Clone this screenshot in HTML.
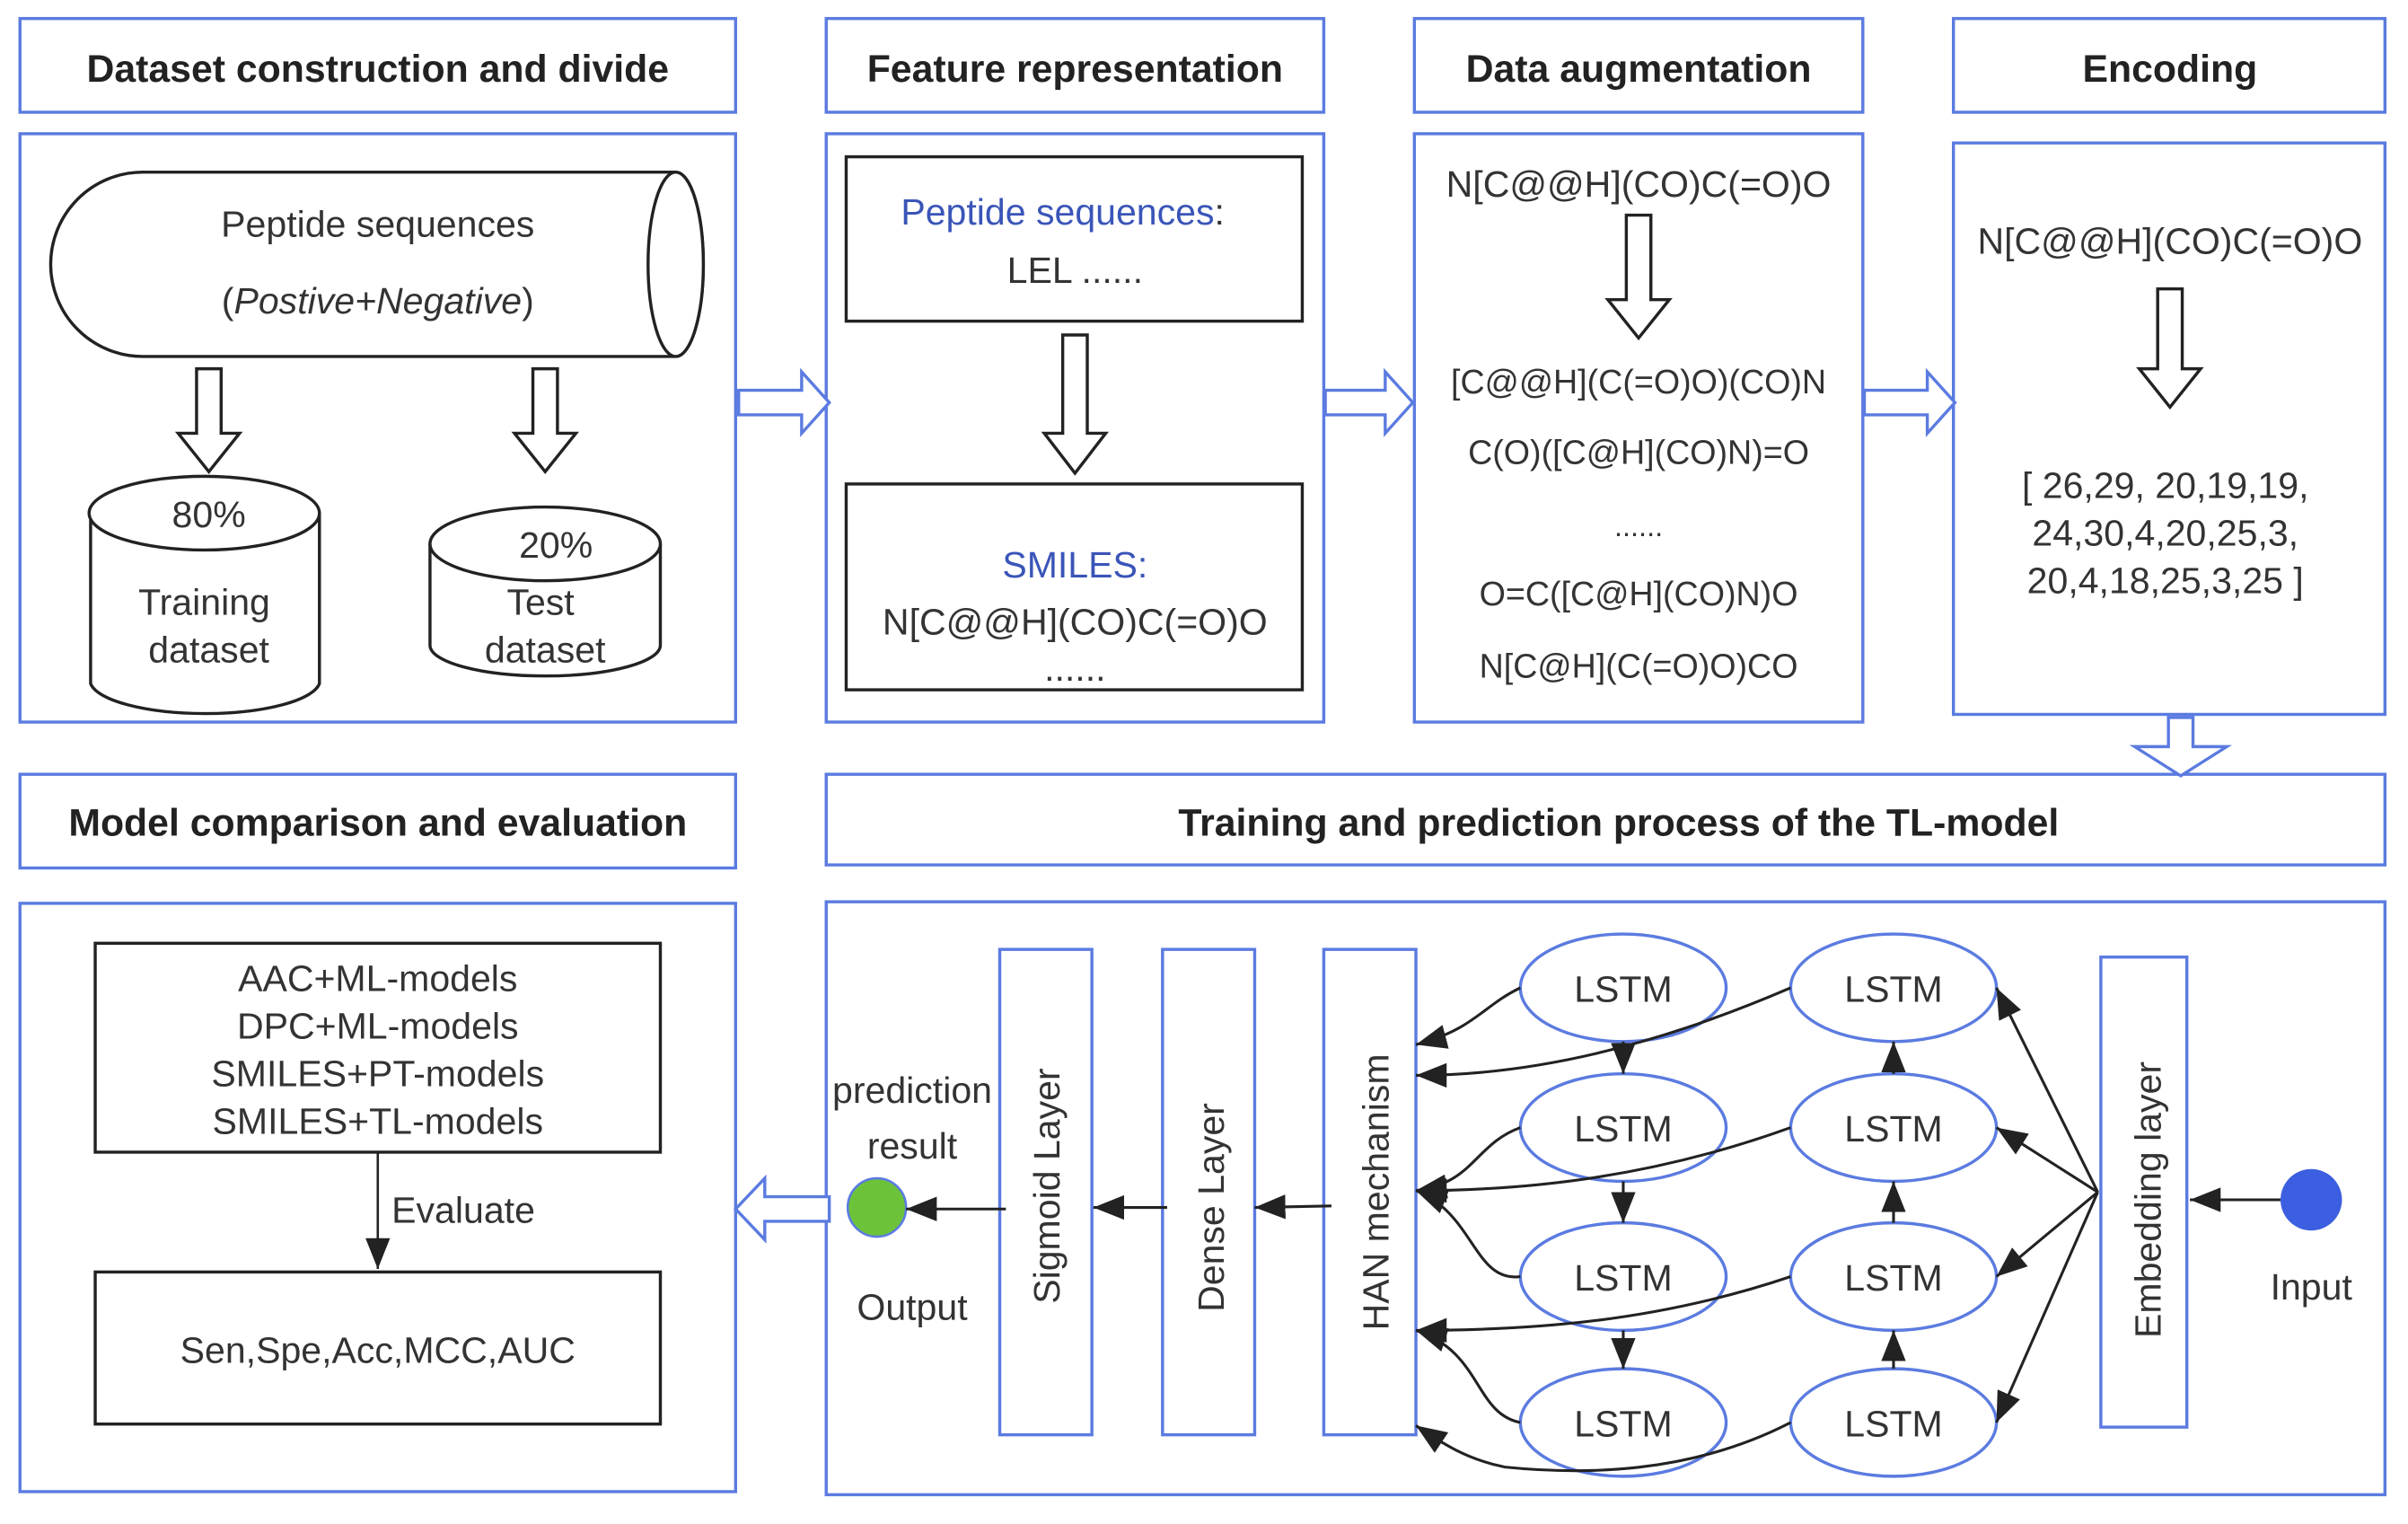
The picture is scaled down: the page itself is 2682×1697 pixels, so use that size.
<!DOCTYPE html>
<html><head><meta charset="utf-8"><style>
html,body{margin:0;padding:0;background:#fff;}
svg{display:block;}
text{font-family:"Liberation Sans",sans-serif;fill:#333;}
.h{font-weight:bold;font-size:25px;fill:#222;}
.t{font-size:24px;}
</style></head><body>
<svg width="2682" height="1697" viewBox="0 0 1568 992" xmlns="http://www.w3.org/2000/svg">
<defs>
<marker id="b" markerWidth="20" markerHeight="16" refX="20" refY="8" orient="auto" markerUnits="userSpaceOnUse"><path d="M0,0 L20,8 L0,16 z" fill="#222"/></marker>
</defs>
<g fill="none" stroke="#5b7be0" stroke-width="2">
<rect x="13" y="12" width="466" height="61"/>
<rect x="538" y="12" width="324" height="61"/>
<rect x="921" y="12" width="292" height="61"/>
<rect x="1272" y="12" width="281" height="61"/>
<rect x="13" y="87" width="466" height="383"/>
<rect x="538" y="87" width="324" height="383"/>
<rect x="921" y="87" width="292" height="383"/>
<rect x="1272" y="93" width="281" height="372"/>
<rect x="13" y="504" width="466" height="61"/>
<rect x="538" y="504" width="1015" height="59"/>
<rect x="13" y="588" width="466" height="383"/>
<rect x="538" y="587" width="1015" height="386"/>
<rect x="651" y="618" width="60" height="316"/>
<rect x="757" y="618" width="60" height="316"/>
<rect x="862" y="618" width="60" height="316"/>
<rect x="1368" y="623" width="56" height="306"/>
<path d="M481,254 H522 V242 L540,262 L522,282 V270 H481 Z" fill="#fff"/>
<path d="M863,254 H902 V242 L920,262 L902,282 V270 H863 Z" fill="#fff"/>
<path d="M1214,254 H1255 V242 L1273,262 L1255,282 V270 H1214 Z" fill="#fff"/>
<path d="M1412,467 H1428 V486 H1450 L1420,505 L1390,486 H1412 Z" fill="#fff"/>
<path d="M540,779 H498 V767 L479,787 L498,807 V795 H540 Z" fill="#fff"/>
<ellipse cx="1057" cy="643" rx="67" ry="35"/><ellipse cx="1233" cy="643" rx="67" ry="35"/>
<ellipse cx="1057" cy="734" rx="67" ry="35"/><ellipse cx="1233" cy="734" rx="67" ry="35"/>
<ellipse cx="1057" cy="831" rx="67" ry="35"/><ellipse cx="1233" cy="831" rx="67" ry="35"/>
<ellipse cx="1057" cy="926" rx="67" ry="35"/><ellipse cx="1233" cy="926" rx="67" ry="35"/>
</g>
<g fill="#fff" stroke="#222" stroke-width="2">
<path d="M93,112 H440 A18,60 0 0 1 440,232 H93 A60,60 0 0 1 93,112 Z"/>
<ellipse cx="440" cy="172" rx="18" ry="60"/>
<path d="M128,240 H144 V282 H156 L136,307 L116,282 H128 Z"/>
<path d="M347,240 H363 V282 H375 L355,307 L335,282 H347 Z"/>
<path d="M692,218 H708 V282 H720 L700,308 L680,282 H692 Z"/>
<path d="M1059,140 H1075 V195 H1087 L1067,220 L1047,195 H1059 Z"/>
<path d="M1405,188 H1421 V240 H1433 L1413,265 L1393,240 H1405 Z"/>
<path d="M59,334 V445 A75,22 0 0 0 208,445 V334"/>
<ellipse cx="133" cy="334" rx="75" ry="24"/>
<path d="M280,354 V420 A75,20 0 0 0 430,420 V354"/>
<ellipse cx="355" cy="354" rx="75" ry="24"/>
<rect x="551" y="102" width="297" height="107"/>
<rect x="551" y="315" width="297" height="134"/>
<rect x="62" y="614" width="368" height="136"/>
<rect x="62" y="828" width="368" height="99"/>
</g>
<text class="h" x="246" y="53" text-anchor="middle">Dataset construction and divide</text>
<text class="h" x="700" y="53" text-anchor="middle">Feature representation</text>
<text class="h" x="1067" y="53" text-anchor="middle">Data augmentation</text>
<text class="h" x="1413" y="53" text-anchor="middle">Encoding</text>
<text class="h" x="246" y="544" text-anchor="middle">Model comparison and evaluation</text>
<text class="h" x="1054" y="544" text-anchor="middle">Training and prediction process of the TL-model</text>
<text class="t" x="246" y="154" text-anchor="middle">Peptide sequences</text>
<text class="t" x="246" y="204" text-anchor="middle">(<tspan font-style="italic">Postive+Negative</tspan>)</text>
<text class="t" x="136" y="343" text-anchor="middle">80%</text>
<text class="t" x="133" y="400" text-anchor="middle">Training</text>
<text class="t" x="136" y="431" text-anchor="middle">dataset</text>
<text class="t" x="362" y="363" text-anchor="middle">20%</text>
<text class="t" x="352" y="400" text-anchor="middle">Test</text>
<text class="t" x="355" y="431" text-anchor="middle">dataset</text>
<text class="t" x="692" y="146" text-anchor="middle"><tspan style="fill:#3a55b8">Peptide sequences</tspan>:</text>
<text class="t" x="700" y="184" text-anchor="middle">LEL ......</text>
<text class="t" x="700" y="376" text-anchor="middle" style="fill:#3a55b8">SMILES:</text>
<text class="t" x="700" y="413" text-anchor="middle">N[C@@H](CO)C(=O)O</text>
<text class="t" x="700" y="443" text-anchor="middle" font-size="19">......</text>
<text class="t" x="1067" y="128" text-anchor="middle">N[C@@H](CO)C(=O)O</text>
<text x="1067" y="256" text-anchor="middle" font-size="22">[C@@H](C(=O)O)(CO)N</text>
<text x="1067" y="302" text-anchor="middle" font-size="22">C(O)([C@H](CO)N)=O</text>
<text x="1067" y="349" text-anchor="middle" font-size="19">......</text>
<text x="1067" y="394" text-anchor="middle" font-size="22">O=C([C@H](CO)N)O</text>
<text x="1067" y="441" text-anchor="middle" font-size="22">N[C@H](C(=O)O)CO</text>
<text class="t" x="1413" y="165" text-anchor="middle">N[C@@H](CO)C(=O)O</text>
<text class="t" x="1410" y="324" text-anchor="middle">[ 26,29, 20,19,19,</text>
<text class="t" x="1410" y="355" text-anchor="middle">24,30,4,20,25,3,</text>
<text class="t" x="1410" y="386" text-anchor="middle">20,4,18,25,3,25 ]</text>
<text class="t" x="246" y="645" text-anchor="middle">AAC+ML-models</text>
<text class="t" x="246" y="676" text-anchor="middle">DPC+ML-models</text>
<text class="t" x="246" y="707" text-anchor="middle">SMILES+PT-models</text>
<text class="t" x="246" y="738" text-anchor="middle">SMILES+TL-models</text>
<line x1="246" y1="750" x2="246" y2="826" stroke="#222" stroke-width="1.5" marker-end="url(#b)"/>
<text class="t" x="255" y="796">Evaluate</text>
<text class="t" x="246" y="887" text-anchor="middle">Sen,Spe,Acc,MCC,AUC</text>
<text class="t" x="594" y="718" text-anchor="middle">prediction</text>
<text class="t" x="594" y="754" text-anchor="middle">result</text>
<text class="t" x="594" y="859" text-anchor="middle">Output</text>
<circle cx="571" cy="786" r="19" fill="#6cc33a" stroke="#5b7be0" stroke-width="1.5"/>
<circle cx="1505" cy="781" r="20" fill="#3b5fe0"/>
<text class="t" x="1505" y="846" text-anchor="middle">Input</text>
<text class="t" transform="translate(690,772) rotate(-90)" text-anchor="middle">Sigmoid Layer</text>
<text class="t" transform="translate(797,786) rotate(-90)" text-anchor="middle">Dense Layer</text>
<text class="t" transform="translate(904,776) rotate(-90)" text-anchor="middle">HAN mechanism</text>
<text class="t" transform="translate(1407,781) rotate(-90)" text-anchor="middle">Embedding layer</text>
<g>
<text x="1057" y="652" text-anchor="middle" font-size="24">LSTM</text><text x="1233" y="652" text-anchor="middle" font-size="24">LSTM</text>
<text x="1057" y="743" text-anchor="middle" font-size="24">LSTM</text><text x="1233" y="743" text-anchor="middle" font-size="24">LSTM</text>
<text x="1057" y="840" text-anchor="middle" font-size="24">LSTM</text><text x="1233" y="840" text-anchor="middle" font-size="24">LSTM</text>
<text x="1057" y="935" text-anchor="middle" font-size="24">LSTM</text><text x="1233" y="935" text-anchor="middle" font-size="24">LSTM</text>
</g>
<g fill="none" stroke="#222" stroke-width="1.8">
<line x1="655" y1="787" x2="590" y2="787" marker-end="url(#b)"/>
<line x1="760" y1="786" x2="712" y2="786" marker-end="url(#b)"/>
<line x1="867" y1="785" x2="817" y2="786" marker-end="url(#b)"/>
<line x1="1485" y1="781" x2="1426" y2="781" marker-end="url(#b)"/>
<line x1="1057" y1="678" x2="1057" y2="699" marker-end="url(#b)"/>
<line x1="1057" y1="769" x2="1057" y2="796" marker-end="url(#b)"/>
<line x1="1057" y1="866" x2="1057" y2="891" marker-end="url(#b)"/>
<line x1="1233" y1="699" x2="1233" y2="678" marker-end="url(#b)"/>
<line x1="1233" y1="796" x2="1233" y2="769" marker-end="url(#b)"/>
<line x1="1233" y1="891" x2="1233" y2="866" marker-end="url(#b)"/>
<line x1="1366" y1="776" x2="1300" y2="643" marker-end="url(#b)"/>
<line x1="1366" y1="776" x2="1300" y2="734" marker-end="url(#b)"/>
<line x1="1366" y1="776" x2="1300" y2="831" marker-end="url(#b)"/>
<line x1="1366" y1="776" x2="1300" y2="926" marker-end="url(#b)"/>
<path d="M990,643 C965,655 960,670 922,680" marker-end="url(#b)"/>
<path d="M1166,643 C1080,680 1000,700 922,700" marker-end="url(#b)"/>
<path d="M990,734 C960,745 960,770 922,775" marker-end="url(#b)"/>
<path d="M1166,734 C1080,765 1000,775 922,775" marker-end="url(#b)"/>
<path d="M990,831 C960,835 960,790 922,775" marker-end="url(#b)"/>
<path d="M1166,831 C1080,860 1000,866 922,866" marker-end="url(#b)"/>
<path d="M990,926 C960,920 965,880 922,866" marker-end="url(#b)"/>
<path d="M1166,926 C1100,960 1030,960 980,955 C955,950 940,940 922,928" marker-end="url(#b)"/>
</g>
</svg>
</body></html>
